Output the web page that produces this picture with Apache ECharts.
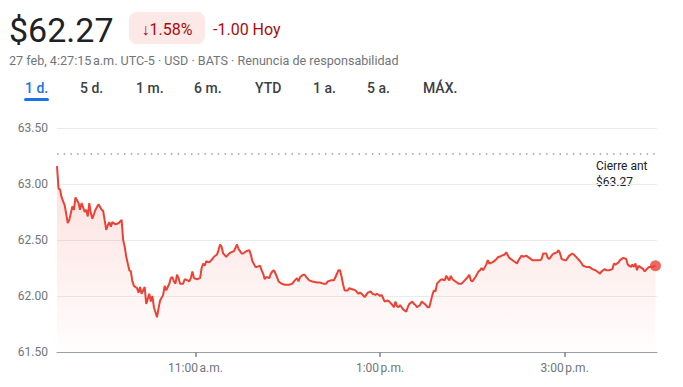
<!DOCTYPE html>
<html>
<head>
<meta charset="utf-8">
<script src="https://cdn.jsdelivr.net/npm/echarts@6/dist/echarts.min.js"></script>
<style>
html,body{margin:0;padding:0;background:#fff;}
#chart{width:683px;height:387px;}
</style>
</head>
<body>
<div id="chart"></div>
<script>
// ---- Data (minutes since 9:30 a.m. open) ----
const minutesSinceOpen = [0,1,2,3,5,7,8,10,11,12,14,15,16,18,19,20,21,22,23,25,27,29,30,32,33,34,35,36,38,40,42,43,44,45,47,48,49,50,52,53,54,55,57,58,60,61,62,63,65,66,67,69,70,71,73,74,75,76,77,78,79,80,82,83,85,86,87,88,89,91,93,94,95,96,97,99,101,102,104,105,106,107,108,110,112,113,115,117,118,120,121,123,125,126,127,129,130,132,133,134,135,136,138,139,140,141,143,144,146,148,151,153,154,156,157,158,159,160,161,162,164,166,169,171,173,175,176,178,180,181,183,184,185,186,187,189,190,192,194,196,197,198,200,201,202,204,205,207,208,210,211,212,213,215,216,218,219,220,221,222,223,225,227,228,229,231,232,233,234,236,237,239,241,242,244,245,246,247,249,250,252,253,255,256,257,259,261,263,265,267,268,269,270,272,274,275,276,277,279,280,281,283,285,287,288,289,291,292,294,297,299,300,302,303,305,307,309,312,314,315,316,318,319,320,322,323,325,326,327,328,330,331,333,335,336,338,340,342,344,346,348,350,353,354,356,357,359,361,362,363,365,366,368,370,371,373,374,375,376,377,378,379,381,382,384,385,387,389];
const prices = [63.16,62.96,62.95,62.88,62.81,62.65,62.68,62.80,62.77,62.88,62.83,62.77,62.83,62.75,62.77,62.71,62.83,62.74,62.69,62.77,62.82,62.77,62.76,62.59,62.63,62.66,62.62,62.66,62.64,62.65,62.68,62.50,62.44,62.35,62.23,62.22,62.13,62.09,62.07,62.03,62.08,62.02,62.08,61.93,62.02,61.95,62.00,61.90,61.81,61.89,61.96,62.01,62.09,62.05,62.11,62.16,62.17,62.13,62.11,62.19,62.16,62.11,62.11,62.15,62.14,62.13,62.16,62.22,62.16,62.15,62.16,62.25,62.29,62.27,62.31,62.30,62.33,62.35,62.37,62.41,62.46,62.44,62.38,62.35,62.38,62.39,62.40,62.46,62.42,62.38,62.38,62.40,62.41,62.37,62.31,62.26,62.26,62.27,62.23,62.20,62.15,62.17,62.16,62.20,62.22,62.23,62.17,62.13,62.11,62.10,62.10,62.11,62.13,62.16,62.13,62.17,62.18,62.19,62.19,62.17,62.14,62.13,62.12,62.12,62.11,62.11,62.13,62.14,62.14,62.17,62.23,62.23,62.17,62.10,62.05,62.05,62.07,62.06,62.05,62.02,62.03,62.02,61.99,62.01,62.03,62.04,62.02,62.01,62.02,62.00,62.01,61.98,61.95,61.96,61.95,61.92,61.90,61.95,61.91,61.90,61.92,61.88,61.86,61.90,61.93,61.95,61.93,61.92,61.90,61.92,61.95,61.93,61.90,61.90,62.01,62.05,62.04,62.11,62.14,62.15,62.14,62.18,62.14,62.18,62.15,62.13,62.11,62.11,62.14,62.17,62.19,62.14,62.13,62.17,62.22,62.23,62.25,62.23,62.28,62.32,62.29,62.30,62.32,62.35,62.35,62.36,62.37,62.39,62.34,62.31,62.29,62.32,62.36,62.35,62.36,62.34,62.32,62.32,62.32,62.33,62.38,62.38,62.34,62.33,62.37,62.38,62.39,62.41,62.38,62.33,62.32,62.32,62.36,62.38,62.37,62.34,62.31,62.27,62.26,62.26,62.24,62.23,62.20,62.22,62.24,62.23,62.23,62.24,62.29,62.28,62.30,62.32,62.34,62.33,62.28,62.26,62.28,62.26,62.29,62.23,62.27,62.26,62.24,62.22,62.25,62.26,62.26,62.27];
const previousClose = 63.27;
const yTicks = [61.5, 62.0, 62.5, 63.0, 63.5];
const xTickMinutes = [90, 210, 330];
const xTickLabels = ['11:00\u202Fa.m.', '1:00\u202Fp.m.', '3:00\u202Fp.m.'];
const tabs = ['1 d.', '5 d.', '1 m.', '6 m.', 'YTD', '1 a.', '5 a.', 'MÁX.'];
const headerPrice = '$62.27';
const changePct = '\u21931.58%';
const changeAbs = '-1.00 Hoy';
const subtitle = '27 feb, 4:27:15\u202Fa.m. UTC-5 · USD · BATS · Renuncia de responsabilidad';
const closeLabel = ['Cierre ant', '$63.27'];

const seriesData = minutesSinceOpen.map((m, i) => [m, prices[i]]);
const lastPoint = seriesData[seriesData.length - 1];

const FONT = 'Roboto, "Noto Sans", Arial, sans-serif';
const tabX = [25, 80, 136, 194, 255, 313, 367, 423];

const graphics = [
  { type: 'text', x: 9, y: 30, style: { text: headerPrice, fontSize: 34, fontFamily: FONT, fill: '#202124', textVerticalAlign: 'middle' } },
  { type: 'rect', shape: { x: 129, y: 12, width: 76, height: 32, r: 8 }, style: { fill: '#fce8e6' } },
  { type: 'text', x: 167, y: 29, style: { text: changePct, fontSize: 16, fontFamily: FONT, fill: '#a50e0e', textAlign: 'center', textVerticalAlign: 'middle' } },
  { type: 'text', x: 213, y: 29, style: { text: changeAbs, fontSize: 16, fontFamily: FONT, fill: '#a50e0e', textVerticalAlign: 'middle' } },
  { type: 'text', x: 9, y: 60, style: { text: subtitle, fontSize: 12.6, fontFamily: FONT, fill: '#70757a', textVerticalAlign: 'middle' } },
  { type: 'rect', shape: { x: 24, y: 98, width: 25, height: 3, r: 1.5 }, style: { fill: '#1a73e8' } },
  { type: 'text', x: 596, y: 166, style: { text: closeLabel[0], fontSize: 12, fontFamily: FONT, fill: '#202124', textVerticalAlign: 'middle' } },
  { type: 'text', x: 596, y: 182, style: { text: closeLabel[1], fontSize: 12, fontFamily: FONT, fill: '#202124', textVerticalAlign: 'middle' } }
];
tabs.forEach((t, i) => {
  graphics.push({ type: 'text', x: tabX[i], y: 88, style: { text: t, fontSize: 14, fontWeight: 500, fontFamily: FONT, fill: i === 0 ? '#1a73e8' : '#3c4043', textVerticalAlign: 'middle' } });
});

const chart = echarts.init(document.getElementById('chart'), null, { renderer: 'svg' });
chart.setOption({
  animation: false,
  backgroundColor: '#fff',
  grid: { left: 57, right: 26, top: 128, bottom: 35 },
  xAxis: {
    type: 'value', min: 0, max: 390,
    axisLine: { show: true, onZero: false, lineStyle: { color: '#9aa0a6', width: 1 } },
    axisTick: { show: true, length: 5, customValues: xTickMinutes, lineStyle: { color: '#80868b', width: 1.5 } },
    axisLabel: { customValues: xTickMinutes, margin: 10, color: '#70757a', fontSize: 12, fontFamily: FONT,
      formatter: v => xTickLabels[xTickMinutes.indexOf(v)] || '' },
    splitLine: { show: false }
  },
  yAxis: {
    type: 'value', min: 61.5, max: 63.5, interval: 0.5,
    axisLine: { show: false }, axisTick: { show: false },
    axisLabel: { margin: 9, color: '#70757a', fontSize: 12, fontFamily: FONT, formatter: v => v.toFixed(2) },
    splitLine: { lineStyle: { color: '#ebebeb', width: 1 } }
  },
  graphic: graphics,
  series: [
    {
      type: 'line', data: seriesData, showSymbol: false, symbol: 'none',
      lineStyle: { color: '#ea4335', width: 2 },
      areaStyle: { color: new echarts.graphic.LinearGradient(0, 0, 0, 1, [
        { offset: 0, color: 'rgba(234,67,53,0.24)' },
        { offset: 1, color: 'rgba(234,67,53,0.01)' }
      ]) },
      markLine: {
        silent: true, symbol: 'none', label: { show: false },
        lineStyle: { color: '#9aa0a6', type: [1.5, 5.2], width: 1.5 },
        data: [{ yAxis: previousClose }]
      },
      z: 3
    },
    {
      type: 'scatter', data: [lastPoint], symbolSize: 11,
      itemStyle: { color: '#ea4335' }, z: 4
    }
  ]
});
</script>
</body>
</html>
